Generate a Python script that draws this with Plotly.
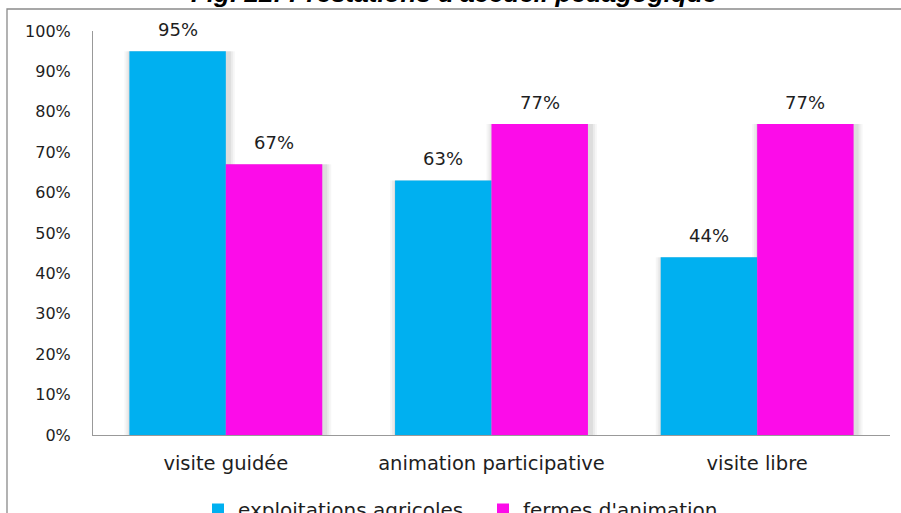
import plotly.graph_objects as go

# Chart data
categories = ["visite guidée", "animation participative", "visite libre"]
exploitations = [95, 63, 44]
fermes = [67, 77, 77]
series_names = ["exploitations agricoles", "fermes d'animation"]
y_ticks = [0, 10, 20, 30, 40, 50, 60, 70, 80, 90, 100]
y_ticklabels = [f"{v}%" for v in y_ticks]
title_text = "Fig. 22: Prestations d'accueil pédagogique"

W, H = 901, 513
L, R, T, B = 93, 11, 31, 78
BLUE = "#00B0F0"
MAGENTA = "#FC0CE9"
FONT = "DejaVu Sans"
TEXT = "#1e1e1e"
BAR_W = 0.363

plot_w = W - L - R
plot_h = H - T - B
cat_px = plot_w / len(categories)


def px_x(px):
    return (px - L) / plot_w


def px_y(py):
    return (H - B - py) / plot_h


fig = go.Figure()

# soft shadow behind bars
for vals, off in ((exploitations, -BAR_W), (fermes, 0.0)):
    for k, a in ((7, 0.035), (5, 0.045), (3, 0.06)):
        fig.add_trace(go.Bar(
            x=categories, y=vals, width=BAR_W + 2 * k / cat_px,
            offset=off - k / cat_px + 2 / cat_px,
            marker=dict(color=f"rgba(0,0,0,{a})", line=dict(width=0)),
            showlegend=False, hoverinfo="skip"))

# each series gets its own legend box so both entries sit where wanted
legend_ids = ["legend", "legend2"]
for name, vals, color, off, lg in ((series_names[0], exploitations, BLUE, -BAR_W, legend_ids[0]),
                                   (series_names[1], fermes, MAGENTA, 0.0, legend_ids[1])):
    fig.add_trace(go.Bar(
        x=categories, y=vals, name=name, width=BAR_W, offset=off, legend=lg,
        marker=dict(color=color, line=dict(width=0))))
    for c, v in zip(categories, vals):
        fig.add_annotation(
            x=c, y=v, xref="x", yref="y", text=f"{v}%", showarrow=False,
            xshift=(off + BAR_W / 2) * cat_px, yshift=9, yanchor="bottom",
            font=dict(family=FONT, size=18, color=TEXT))

fig.add_annotation(
    x=px_x(454), y=px_y(10), xref="paper", yref="paper", text=f"<b><i>{title_text}</i></b>",
    showarrow=False, xanchor="center", yanchor="bottom",
    font=dict(family="Liberation Sans", size=26, color="black"))

fig.add_shape(type="rect", xref="paper", yref="paper",
              x0=px_x(7), x1=px_x(W + 5), y0=px_y(H + 5), y1=px_y(9),
              line=dict(color="#8a8a8a", width=1.3), layer="below")

legend_style = dict(orientation="h", xanchor="left", yanchor="middle",
                    y=px_y(509.5), font=dict(size=20),
                    bgcolor="rgba(0,0,0,0)")

fig.update_layout(
    width=W, height=H,
    margin=dict(l=L, r=R, t=T, b=B, autoexpand=False),
    paper_bgcolor="white", plot_bgcolor="white",
    barmode="overlay",
    font=dict(family=FONT, size=16, color=TEXT),
    showlegend=True,
    legend=dict(x=px_x(198), **legend_style),
    legend2=dict(x=px_x(483), **legend_style),
    xaxis=dict(range=[-0.5, 2.5], showgrid=False, showline=True, linecolor="#999",
               linewidth=1, ticks="", ticklabelstandoff=11,
               tickfont=dict(size=19.5)),
    yaxis=dict(range=[0, 100], tickvals=y_ticks, ticktext=y_ticklabels,
               showgrid=False, showline=True, linecolor="#999", linewidth=1,
               ticks="", ticklabelstandoff=18, zeroline=False,
               tickfont=dict(size=16)),
)

fig.write_html("out.html")
